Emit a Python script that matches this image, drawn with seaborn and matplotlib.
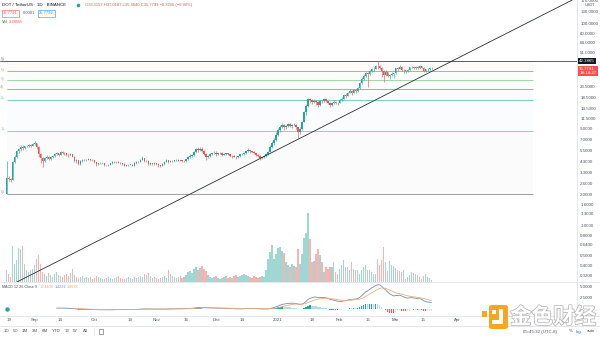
import numpy as np
import pandas as pd
import matplotlib
matplotlib.use("Agg")
import matplotlib.pyplot as plt
import matplotlib.dates as mdates
import matplotlib.patheffects as pe
from matplotlib.lines import Line2D
from matplotlib.patches import FancyBboxPatch, Rectangle
from matplotlib.ticker import NullLocator, FixedLocator
import seaborn as sns

# ---------------- data ----------------
start_date = "2020-08-18"
first_open = 2.05

closes = [
    # Aug 18-31
    2.95, 2.85, 2.80, 4.25, 4.75, 5.45, 5.65, 6.00, 5.80, 6.05, 6.10, 6.25, 6.15, 6.40,
    # Sep
    6.55, 5.95, 5.05, 4.60, 4.35, 4.65, 4.80, 4.55, 4.75, 4.90, 5.05, 5.20, 5.00, 5.35, 5.25,
    5.20, 5.00, 4.95, 5.10, 4.80, 4.30, 4.40, 4.05, 4.35, 4.45, 4.40, 4.45, 4.50, 4.45, 4.40,
    # Oct
    4.20, 4.05, 4.10, 4.15, 4.12, 3.92, 3.95, 4.00, 4.10, 4.25, 4.20, 4.25, 4.15, 4.10, 4.05,
    3.90, 3.92, 3.98, 4.00, 3.90, 4.10, 4.28, 4.25, 4.45, 4.60, 4.30, 4.35, 4.05, 4.10, 4.05, 4.10,
    # Nov
    4.05, 3.95, 3.90, 4.05, 4.25, 4.40, 4.25, 4.35, 4.30, 4.40, 4.45, 4.35, 4.40, 4.35, 4.30,
    4.50, 4.80, 4.90, 4.95, 5.30, 5.70, 5.60, 5.75, 5.45, 5.10, 4.80, 4.90, 5.10, 5.15, 5.25,
    # Dec
    5.05, 5.20, 5.25, 5.00, 5.10, 5.15, 5.05, 4.85, 4.90, 4.80, 4.70, 4.85, 5.05, 5.10, 5.20,
    5.40, 5.55, 5.40, 5.35, 5.20, 4.95, 4.90, 4.60, 4.75, 4.85, 5.10, 5.35, 5.95, 6.50, 7.05, 7.90,
    # Jan
    8.70, 9.30, 9.90, 9.40, 9.70, 10.10, 9.70, 9.85, 9.95, 9.40, 8.40, 8.90, 10.60, 13.10, 15.20,
    17.80, 17.40, 16.50, 17.20, 16.60, 15.60, 17.10, 16.90, 17.80, 17.00, 16.40, 15.40, 16.30, 16.80, 16.40, 16.30,
    # Feb
    17.40, 18.00, 19.60, 19.10, 20.60, 21.50, 20.60, 21.80, 21.40, 22.90, 25.60, 28.30, 30.40, 31.90,
    31.20, 33.60, 35.20, 35.50, 37.80, 37.60, 36.20, 33.80, 31.10, 32.70, 30.20, 30.60, 31.80, 31.90,
    # Mar 1-19
    35.80, 35.20, 37.00, 34.10, 34.30, 33.40, 34.80, 36.60, 37.30, 36.20, 36.80, 35.80, 37.60, 36.20,
    33.60, 34.90, 35.60, 36.1057, 35.7791,
]

highs = [
    4.30, 3.05, 2.95, 4.35, 4.95, 5.60, 5.85, 6.20, 6.25, 6.15, 6.30, 6.35, 6.40, 6.55,
    6.84, 6.60, 6.05, 5.20, 4.75, 4.80, 4.95, 4.90, 4.85, 5.00, 5.15, 5.30, 5.25, 5.45, 5.50,
    5.35, 5.25, 5.15, 5.20, 5.10, 4.85, 4.50, 4.45, 4.40, 4.55, 4.50, 4.50, 4.65, 4.55, 4.50,
    4.45, 4.25, 4.15, 4.20, 4.22, 4.15, 4.00, 4.05, 4.15, 4.30, 4.30, 4.32, 4.30, 4.20, 4.15,
    4.10, 3.96, 4.02, 4.05, 4.05, 4.20, 4.35, 4.35, 4.50, 4.85, 4.65, 4.45, 4.40, 4.20, 4.15, 4.20,
    4.15, 4.10, 4.00, 4.10, 4.30, 4.50, 4.45, 4.40, 4.45, 4.45, 4.55, 4.50, 4.45, 4.42, 4.40,
    4.55, 4.90, 5.05, 5.05, 5.40, 5.85, 5.90, 6.00, 5.90, 5.55, 5.15, 5.00, 5.15, 5.25, 5.40,
    5.45, 5.25, 5.35, 5.30, 5.15, 5.20, 5.20, 5.10, 4.95, 4.95, 4.85, 4.90, 5.10, 5.15, 5.30,
    5.50, 5.80, 5.60, 5.50, 5.40, 5.25, 5.05, 4.95, 4.80, 4.95, 5.20, 5.50, 6.20, 6.90, 7.40, 8.30,
    9.10, 9.80, 10.40, 10.00, 9.95, 10.30, 10.20, 10.10, 10.20, 10.10, 9.45, 9.40, 10.90, 13.60, 15.80,
    18.40, 18.20, 17.90, 17.80, 17.50, 17.00, 17.60, 17.40, 18.30, 18.10, 17.20, 16.60, 16.60, 17.50, 17.00, 16.80,
    17.80, 18.60, 20.10, 20.20, 21.10, 22.30, 21.80, 22.60, 22.50, 23.60, 26.40, 29.40, 31.50, 33.00,
    32.60, 34.80, 36.00, 36.80, 39.00, 42.3865, 38.90, 36.90, 34.20, 34.20, 33.20, 31.50, 33.20, 32.50,
    36.40, 37.00, 38.60, 37.50, 35.00, 34.60, 35.40, 37.30, 38.00, 38.20, 37.50, 37.50, 38.50, 38.00,
    36.60, 35.30, 36.00, 36.80, 37.0187,
]

lows = [
    2.04, 2.75, 2.70, 2.78, 4.10, 4.60, 5.20, 5.50, 5.55, 5.70, 5.90, 5.95, 5.95, 6.05,
    6.20, 5.70, 4.80, 4.10, 3.80, 4.25, 4.50, 4.40, 4.45, 4.65, 4.80, 4.95, 4.90, 4.95, 5.10,
    5.00, 4.85, 4.80, 4.90, 4.70, 4.20, 4.15, 3.95, 4.00, 4.25, 4.30, 4.30, 4.40, 4.30, 4.30,
    4.10, 3.90, 3.98, 4.02, 4.05, 3.88, 3.85, 3.85, 3.95, 4.08, 4.15, 4.10, 4.10, 4.05, 4.00,
    3.85, 3.86, 3.88, 3.92, 3.85, 3.86, 4.05, 4.15, 4.20, 4.40, 4.20, 4.20, 3.95, 3.95, 3.95, 4.00,
    3.95, 3.80, 3.80, 3.85, 4.00, 4.20, 4.15, 4.20, 4.20, 4.25, 4.35, 4.30, 4.30, 4.25, 4.20,
    4.25, 4.45, 4.60, 4.80, 4.90, 5.25, 5.30, 5.45, 5.30, 5.00, 4.40, 4.60, 4.80, 5.00, 5.10,
    4.90, 4.95, 5.10, 4.90, 4.95, 5.00, 5.00, 4.75, 4.60, 4.70, 4.55, 4.65, 4.80, 4.95, 5.00,
    5.10, 5.30, 5.25, 5.25, 5.05, 4.85, 4.70, 4.45, 4.50, 4.65, 4.80, 5.00, 5.30, 5.80, 6.30, 6.90,
    7.70, 8.40, 9.10, 8.70, 9.00, 9.40, 9.30, 9.20, 9.60, 8.90, 7.30, 8.10, 8.70, 10.50, 12.50,
    15.00, 16.30, 15.80, 16.10, 15.60, 14.90, 15.20, 16.30, 16.80, 16.60, 15.80, 15.00, 15.20, 15.90, 16.00, 15.60,
    16.10, 17.10, 17.80, 18.20, 18.90, 20.40, 19.60, 20.20, 20.60, 21.00, 22.40, 25.20, 27.60, 29.70,
    23.50, 30.80, 32.60, 33.80, 34.90, 35.50, 35.40, 29.50, 26.30, 29.80, 29.60, 27.90, 30.20, 28.80,
    31.60, 34.00, 34.90, 33.50, 31.90, 32.50, 33.20, 34.50, 36.00, 35.40, 35.30, 34.90, 35.10, 35.90,
    33.00, 33.00, 34.00, 34.60, 35.4840,
]

volumes_m = [
    12, 8, 5, 35, 18, 22, 33, 32, 35, 18,
    12, 10, 12, 13, 17, 23, 27, 18, 10,
    8, 6, 9, 7, 5, 8, 10, 7, 6, 5, 7, 8, 6, 9, 13, 7, 5, 4, 5, 6, 4, 5,
    4, 5, 3, 4, 6, 5, 4, 3, 3, 4, 5, 4, 3, 4, 5, 6, 4, 3, 3, 4,
    5, 4, 3, 5, 4, 5, 6, 5, 8, 7, 9, 6, 4, 5, 4, 3, 4, 5, 6, 4,
    12, 8, 6, 5, 4, 5, 6, 4, 5, 7,
    10, 11, 9, 13, 15, 12, 14, 16, 13, 11,
    7, 5, 4, 5, 6, 4, 3, 4, 5, 6, 4, 5, 4, 6, 7, 5, 6, 7, 8, 7, 6, 5, 4, 6, 5, 4, 5, 6, 5,
    12, 23, 30, 36, 23, 28, 33, 34, 31, 29, 20,
    17, 15, 18, 16, 15,
    32, 18, 28, 43, 48, 68, 42, 20, 21, 28, 32,
    27, 20, 10, 15, 13, 15, 15, 20, 10, 8, 13, 17,
    22, 15, 15, 12, 20, 13, 12, 12, 8, 12, 15, 17,
    12, 12, 10, 8, 8, 23, 17, 22, 34, 20,
    11, 21, 17, 16, 14, 12, 11, 10, 12, 3,
    5, 7, 10, 9, 8, 7, 5, 3, 6, 8, 5, 4, 2,
]

fib_prices = [42.3865, 33.40, 27.20, 22.40, 17.42, 8.60, 2.04]
fib_labels = ["5)", "5)", "8)", "4)", "2)", "1)", "0)"]
fib_colors = ["#787b86", "#e0a07a", "#a5d6a7", "#9bb5a0", "#80cbc4", "#a3c6c8", "#9e9e9e"]
fib_span = ["2020-08-18", "2021-05-09"]
hline_price = 42.3865
trend_dates = ["2021-01-11", "2021-03-18"]
trend_prices = [7.10, 32.6]

price_ticks = [170, 130, 100, 80, 64, 51, 23.5, 18.5, 14.5, 11.5, 9, 7, 5.5, 4.3, 3.3,
               2.6, 2.0, 1.6, 1.3, 1.0, 0.8, 0.64, 0.5, 0.4, 0.32]
price_range = [0.2747, 170.1]
macd_ticks = [5.0, 2.5]
macd_range = [-1.6, 6.1]
time_ticks = ["2020-08-19", "2020-09-01", "2020-09-14", "2020-10-01", "2020-10-19",
              "2020-11-01", "2020-11-16", "2020-12-01", "2020-12-14", "2021-01-01",
              "2021-01-18", "2021-02-01", "2021-02-15", "2021-03-01", "2021-03-15", "2021-04-01"]
time_labels = ["19", "Sep", "14", "Oct", "19", "Nov", "16", "Dec", "14", "2021",
               "18", "Feb", "15", "Mar", "15", "Apr"]
view_range = ["2020-08-14 16:00", "2021-05-30 22:00"]
range_buttons = ["1D", "5D", "1M", "3M", "6M", "YTD", "1Y", "5Y", "All"]

header_title = "DOT / TetherUS · 1D · BINANCE"
header_ohlc = "O36.1157 H37.0187 L35.4840 C35.7791 −0.3266 (−0.90%)"
bid_ask = ["35.7791", "0.0001", "35.7792"]
vol_text = "2.285M"
countdown = "18:14:27"
clock_text = "05:45:32 (UTC-8)"

# ---------------- style ----------------
sns.set_theme(style="white")
plt.rcParams["font.family"] = ["Liberation Sans", "DejaVu Sans"]
UP, DOWN = "#26a69a", "#ef5350"
TXT = "#50535e"
FS = 3.2

W, H = 600, 337
fig = plt.figure(figsize=(6, 3.37), dpi=100, facecolor="white")

def rect(x0, y0, x1, y1):
    return [x0 / W, 1 - y1 / H, (x1 - x0) / W, (y1 - y0) / H]

def fx(px):
    return px / W

def fy(py):
    return 1 - py / H

ax_vol = fig.add_axes(rect(0, 0, 577, 282))
ax = fig.add_axes(rect(0, 0, 577, 282), sharex=ax_vol)
ax_macd = fig.add_axes(rect(0, 282, 577, 316), sharex=ax_vol)

dates = pd.date_range(start_date, periods=len(closes), freq="D")
xd = mdates.date2num(dates)
c = np.array(closes, dtype=float)
o = np.array([first_open] + closes[:-1], dtype=float)
hi = np.array(highs, dtype=float)
lo = np.array(lows, dtype=float)
vol = np.array(volumes_m, dtype=float)
is_up = c >= o
cols = np.where(is_up, UP, DOWN)

# volume
vcols = np.where(is_up, "#9fd8d2", "#f8b3b1")
ax_vol.bar(xd, vol, width=0.7, color=vcols, linewidth=0)
ax_vol.set_ylim(0, vol.max() / 0.245)
ax_vol.axis("off")

# price pane
ax.patch.set_alpha(0)
ax.set_yscale("log")
fx0, fx1 = mdates.date2num(pd.to_datetime(fib_span))
for i in range(len(fib_prices) - 1):
    ax.fill_between([fx0, fx1], fib_prices[i], fib_prices[i + 1],
                    color=fib_colors[i + 1], alpha=0.035, linewidth=0, zorder=0)
for p, col, lab in zip(fib_prices, fib_colors, fib_labels):
    ax.hlines(p, fx0, fx1, color=col, lw=0.7, zorder=1)
    ax.annotate(lab, xy=(0.0, p), xycoords=ax.get_yaxis_transform(),
                xytext=(0.3, 1.3), textcoords="offset points",
                fontsize=FS, color=col, va="center", ha="left")
ax.axhline(hline_price, color="#5d606b", lw=0.7, zorder=1)

bot = np.minimum(o, c)
top = np.maximum(np.maximum(o, c), bot * 1.006)
ax.vlines(xd, lo, hi, colors=cols, lw=0.45, zorder=2)
ax.bar(xd, top - bot, bottom=bot, width=0.7, color=cols, linewidth=0, zorder=3)

tx = mdates.date2num(pd.to_datetime(trend_dates))
ax.axline((tx[0], trend_prices[0]), (tx[1], trend_prices[1]), color="#2a2e39", lw=0.6, zorder=4)

ax.set_ylim(*price_range)
ax.yaxis.set_major_locator(FixedLocator(price_ticks))
ax.yaxis.set_minor_locator(NullLocator())
ax.set_yticklabels([f"{v:.4f}" for v in price_ticks])
ax.yaxis.tick_right()
ax.tick_params(axis="y", length=0, pad=2.3, labelsize=FS, labelcolor=TXT)
ax.tick_params(axis="x", bottom=False, labelbottom=False)
for s in ax.spines.values():
    s.set_visible(False)

btrans = ax.get_yaxis_transform()
ax.text(1.004, hline_price, "42.3865", transform=btrans, fontsize=FS, color="white",
        va="center", ha="left", clip_on=False,
        bbox=dict(boxstyle="square,pad=0.25", fc="#131722", ec="none"))
ax.annotate(f"{c[-1]:.4f}\n{countdown}", xy=(1.004, c[-1]), xycoords=btrans,
            xytext=(0, -1.6), textcoords="offset points", fontsize=FS, color="white",
            va="center", ha="left", linespacing=1.0, annotation_clip=False,
            bbox=dict(boxstyle="square,pad=0.25", fc=DOWN, ec="none"))

# MACD pane
cs = pd.Series(c)
macd = cs.ewm(span=12, adjust=False).mean() - cs.ewm(span=26, adjust=False).mean()
signal = macd.ewm(span=9, adjust=False).mean()
hist = macd - signal
macd_v = macd.to_numpy().copy()
sig_v = signal.to_numpy().copy()
hist_v = hist.to_numpy().copy()
macd_v[:25] = np.nan
sig_v[:33] = np.nan
hist_v[:33] = np.nan
hcols = []
prev = 0.0
for h in hist_v:
    if np.isnan(h):
        hcols.append("#ffffff")
        continue
    if h >= 0:
        hcols.append("#26a69a" if h >= prev else "#b2dfdb")
    else:
        hcols.append("#ff5252" if h < prev else "#ffcdd2")
    prev = h
ax_macd.bar(xd, np.nan_to_num(hist_v), width=0.7, color=hcols, linewidth=0)
m_ok = ~np.isnan(macd_v)
s_ok = ~np.isnan(sig_v)
sns.lineplot(x=xd[m_ok], y=macd_v[m_ok], ax=ax_macd, color="#7d8aa6", lw=0.6)
sns.lineplot(x=xd[s_ok], y=sig_v[s_ok], ax=ax_macd, color="#e3b08c", lw=0.6)
ax_macd.set_ylim(*macd_range)
ax_macd.set_yticks(macd_ticks)
ax_macd.set_yticklabels([f"{v:.4f}" for v in macd_ticks])
ax_macd.yaxis.tick_right()
ax_macd.tick_params(axis="y", length=0, pad=2.3, labelsize=FS, labelcolor=TXT)
ax_macd.set_xticks(mdates.date2num(pd.to_datetime(time_ticks)))
ax_macd.set_xticklabels(time_labels)
ax_macd.tick_params(axis="x", length=0, pad=1.6, labelsize=FS, labelcolor=TXT)
ax_macd.set_xlim(*mdates.date2num(pd.to_datetime(view_range)))
ax_macd.set_facecolor("white")
for s in ax_macd.spines.values():
    s.set_visible(False)

# separators
for (x0, y0, x1, y1) in [(577, 0, 577, 326), (0, 282, 600, 282), (0, 316, 600, 316),
                         (0, 326, 600, 326)]:
    fig.add_artist(Line2D([fx(x0), fx(x1)], [fy(y0), fy(y1)], color="#e0e3eb", lw=0.6,
                          transform=fig.transFigure))

# header texts
fig.text(fx(2), fy(5), header_title, fontsize=FS, color="#131722", va="center")
fig.add_artist(Line2D([fx(78)], [fy(5)], marker="o", ms=1.6, color=UP, lw=0,
                      transform=fig.transFigure))
fig.text(fx(85), fy(5), header_ohlc, fontsize=FS * 0.92, color=DOWN, va="center")
fig.text(fx(3), fy(13.5), bid_ask[0], fontsize=FS * 0.92, color=DOWN, va="center",
         bbox=dict(boxstyle="square,pad=0.3", fc="white", ec=DOWN, lw=0.4))
fig.text(fx(23), fy(13.5), bid_ask[1], fontsize=FS * 0.92, color=TXT, va="center")
fig.text(fx(39), fy(13.5), bid_ask[2], fontsize=FS * 0.92, color="#2196f3", va="center",
         bbox=dict(boxstyle="square,pad=0.3", fc="white", ec="#2196f3", lw=0.4))
fig.text(fx(2), fy(22), "Vol", fontsize=FS * 0.92, color=TXT, va="center")
fig.text(fx(9), fy(22), vol_text, fontsize=FS * 0.92, color=DOWN, va="center")
fig.text(fx(590), fy(5), "USDT", fontsize=FS * 0.9, color=TXT, va="center", ha="center")

# MACD legend
LFS = FS * 0.85
fig.text(fx(2), fy(287), "MACD 12 26 Close 9", fontsize=LFS, color=TXT, va="center")
fig.text(fx(41), fy(287), f"{hist_v[-1]:.4f}", fontsize=LFS, color="#f19a96", va="center")
fig.text(fx(55), fy(287), f"{macd_v[-1]:.4f}", fontsize=LFS, color="#4f8fd0", va="center")
fig.text(fx(67), fy(287), f"{sig_v[-1]:.4f}", fontsize=LFS, color="#e9a66b", va="center")
fig.add_artist(Line2D([fx(7)], [fy(308.5)], marker="o", ms=2.2, color="#26a69a", lw=0,
                      transform=fig.transFigure))

# bottom toolbar
for lab, px in zip(range_buttons, [7, 16, 25, 35, 45, 56, 67, 76, 85]):
    fig.text(fx(px), fy(331.5), lab, fontsize=FS, color=TXT, va="center", ha="center")
fig.add_artist(Line2D([fx(94), fx(94)], [fy(328), fy(335)], color="#e0e3eb", lw=0.5,
                      transform=fig.transFigure))
fig.add_artist(Rectangle((fx(99), fy(334)), 4 / W, 5 / H, fill=False, ec=TXT, lw=0.4,
                         transform=fig.transFigure))
fig.text(fx(540), fy(331.5), clock_text, fontsize=FS, color=TXT, va="center", ha="center")
fig.text(fx(571), fy(331.5), "%", fontsize=FS, color=TXT, va="center", ha="center")
fig.text(fx(579), fy(331.5), "log", fontsize=FS, color="#2962ff", va="center", ha="center")
fig.text(fx(591), fy(331.5), "auto", fontsize=FS, color=TXT, va="center", ha="center")

# watermark
fig.add_artist(Rectangle((fx(482), fy(317)), 5 / W, 6 / H, fc="#f6a623", ec="none",
                         transform=fig.transFigure, zorder=9))
fig.add_artist(FancyBboxPatch((fx(489), fy(329)), 19 / W, 24 / H,
                              boxstyle="round,pad=0,rounding_size=0.006",
                              fc="#f6a623", ec="none", transform=fig.transFigure, zorder=9))
fig.add_artist(Rectangle((fx(499), fy(324)), 4 / W, 15 / H, fc="white", ec="none",
                         transform=fig.transFigure, zorder=10))
fig.add_artist(Rectangle((fx(492), fy(324)), 11 / W, 4 / H, fc="white", ec="none",
                         transform=fig.transFigure, zorder=10))
fig.add_artist(Rectangle((fx(492), fy(314)), 4 / W, 4 / H, fc="white", ec="none",
                         transform=fig.transFigure, zorder=10))
fig.text(fx(553), fy(317), "金色财经", fontsize=15.5, color="white", weight="bold",
         family=["Noto Sans CJK SC", "DejaVu Sans"], ha="center", va="center", zorder=11,
         path_effects=[pe.withStroke(linewidth=1.1, foreground="#b5b5b5")])

fig.savefig("out.png", dpi=100, facecolor="white")
